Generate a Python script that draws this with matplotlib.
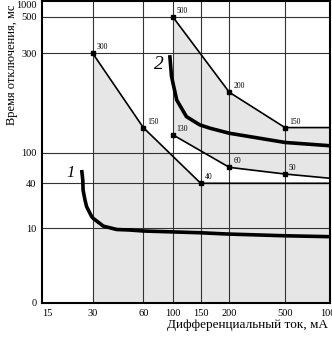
import numpy as np
import matplotlib.pyplot as plt

plt.rcParams['font.family'] = ['Liberation Serif', 'DejaVu Serif']

# шкалы на рисунке нарисованы от руки: узлы делений -> положение (px)
x_ticks = [15, 30, 60, 100, 150, 200, 500, 1000]
x_pos = [0, 50.7, 101.3, 130.7, 158.7, 187.3, 243, 288]
y_ticks = [0, 10, 40, 100, 300, 500, 1000]
y_pos = [0, 75, 119.7, 150.3, 249.7, 286.3, 302]

# ломаная 1 (верхняя граница для 30 мА)
a_x = [30, 60, 150, 1000]
a_y = [300, 132, 40, 40]
a_lab = ['300', '150', '40']

# ломаная 2 (верхняя граница для 100 мА)
b_x = [100, 200, 500, 1000]
b_y = [500, 195, 132, 132]
b_lab = ['500', '200', '150']

# ломаная 3 (нижняя граница для 100 мА)
c_x = [100, 200, 500, 1000]
c_y = [122, 64.5, 52.8, 46.5]
c_lab = ['130', '60', '50']

# кривая 1
k1_x = [25.8, 26.2, 26.3, 27.0, 27.6, 29.6, 30.2, 34.7, 41.7, 50, 60, 111, 148, 195, 486, 1000]
k1_y = [59.6, 44, 32.5, 23.8, 19.4, 14.2, 13.5, 10.6, 9.8, 9.73, 9.6, 9.45, 9.37, 9.2, 8.97, 8.84]

# кривая 2
k2_x = [95, 98, 106, 122, 148, 165, 200, 500, 1000]
k2_y = [294, 232, 179, 149, 136, 131, 124, 112, 108]

lx = np.log10(x_ticks)
ly = np.log10(y_ticks[1:])


def fx(v):
    v = np.log10(np.clip(np.asarray(v, float), 1e-6, None))
    return np.interp(v, lx, x_pos)


def fx_inv(p):
    return 10 ** np.interp(np.asarray(p, float), x_pos, lx)


def fy(v):
    v = np.asarray(v, float)
    hi = np.interp(np.log10(np.maximum(v, 10)), ly, y_pos[1:])
    return np.where(v < 10, v * 7.5, hi)


def fy_inv(p):
    p = np.asarray(p, float)
    return np.where(p < 75, p / 7.5, 10 ** np.interp(p, y_pos[1:], ly))


fig = plt.figure(figsize=(3.32, 3.43), dpi=100)
ax = fig.add_axes([42 / 332, 40 / 343, 288 / 332, 302 / 343])
ax.set_xscale('function', functions=(fx, fx_inv))
ax.set_yscale('function', functions=(fy, fy_inv))
ax.set_xlim(15, 1000)
ax.set_ylim(0, 1000)

gray = '#e6e6e6'
ax.fill_between(a_x, 0, a_y, color=gray, lw=0, zorder=0)
ax.fill_between(b_x, c_y, b_y, color=gray, lw=0, zorder=0)

for t in x_ticks[1:-1]:
    ax.axvline(t, color='#333333', lw=0.8, zorder=1)
for t in y_ticks[1:-1]:
    ax.axhline(t, color='#333333', lw=0.8, zorder=1)

for xs, ys, labs in [(a_x, a_y, a_lab), (b_x, b_y, b_lab), (c_x, c_y, c_lab)]:
    ax.plot(xs, ys, color='black', lw=1.2, zorder=3)
    ax.plot(xs[:3], ys[:3], 's', color='black', ms=3, zorder=4)
    for x, y, s in zip(xs, ys, labs):
        ax.annotate(s, (x, y), xytext=(4, 6), textcoords='offset pixels',
                    fontsize=5.5, ha='left', va='center')

ax.plot(k1_x, k1_y, color='black', lw=2.6, solid_capstyle='butt', zorder=3)
ax.plot(k2_x, k2_y, color='black', lw=2.6, solid_capstyle='butt', zorder=3)
ax.text(22.2, 54, '1', fontsize=12, style='italic', ha='center', va='center')
ax.text(79, 265, '2', fontsize=14, style='italic', ha='center', va='center')

ax.set_xticks(x_ticks, [str(t) for t in x_ticks])
ax.set_yticks(y_ticks, [str(t) for t in y_ticks])
ax.get_xticklabels()[0].set_ha('left')
ax.get_yticklabels()[-1].set_va('top')
ax.minorticks_off()
ax.tick_params(length=0, labelsize=7.5, pad=4)
for sp in ax.spines.values():
    sp.set_linewidth(1.5)
    sp.set_zorder(5)

ax.set_xlabel('Дифференциальный ток, мА', fontsize=9.5, va='center')
ax.xaxis.set_label_coords(0.715, -0.072)
ax.set_ylabel('Время отключения, мс', fontsize=9, va='center')
ax.yaxis.set_label_coords(-0.104, 0.79)

plt.savefig('out.png', dpi=100)
